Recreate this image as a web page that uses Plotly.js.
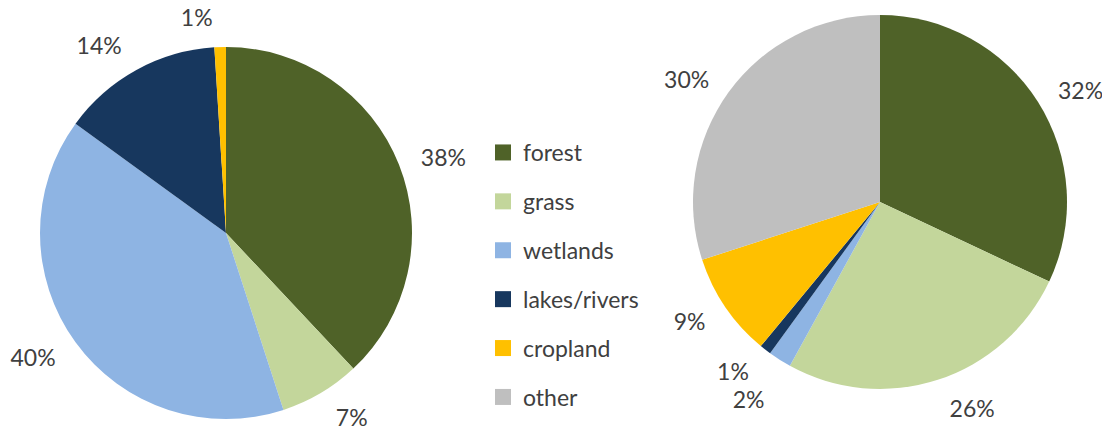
<!DOCTYPE html>
<html>
<head>
<meta charset="utf-8">
<script src="https://cdn.plot.ly/plotly-3.0.1.min.js"></script>
<style>html,body{margin:0;padding:0;background:#fff;}#chart{width:1102px;height:439px;}#chart path.textline{display:none;}</style>
</head>
<body>
<div id="chart"></div>
<script>
// Data
const categories = ["forest", "grass", "wetlands", "lakes/rivers", "cropland", "other"];
const colors = ["#4F6228", "#C3D69B", "#8EB4E3", "#17375E", "#FFC000", "#BFBFBF"];
const leftLabels = ["forest", "grass", "wetlands", "lakes/rivers", "cropland"];
const leftValues = [38, 7, 40, 14, 1];
const rightLabels = ["forest", "grass", "wetlands", "lakes/rivers", "cropland", "other"];
const rightValues = [32, 26, 2, 1, 9, 30];

const W = 1102, H = 439;
const FONT = "Lato, 'Open Sans', sans-serif";
const TXT = "#404040";
const colorOf = l => colors[categories.indexOf(l)];

function circleDomain(cx, cy, r) {
  return {x: [(cx - r) / W, (cx + r) / W], y: [1 - (cy + r) / H, 1 - (cy - r) / H]};
}

const base = {
  type: "pie",
  sort: false,
  direction: "clockwise",
  rotation: 0,
  showlegend: false,
  hoverinfo: "skip"
};

// visible pies (no text)
function slicesPie(labels, values, dom) {
  return Object.assign({}, base, {
    labels: labels, values: values,
    textinfo: "none",
    marker: {colors: labels.map(colorOf), line: {width: 0}},
    domain: dom
  });
}
// transparent, slightly larger pies carrying the outside percentage labels
function labelPie(labels, values, dom) {
  return Object.assign({}, base, {
    labels: labels, values: values,
    textinfo: "percent",
    textposition: "outside",
    outsidetextfont: {family: FONT, size: 23, color: TXT},
    marker: {colors: labels.map(() => "rgba(0,0,0,0)"), line: {width: 0}},
    domain: dom
  });
}

const traces = [
  labelPie(leftLabels, leftValues, circleDomain(226, 233, 202)),
  labelPie(rightLabels, rightValues, circleDomain(880, 202, 203)),
  slicesPie(leftLabels, leftValues, circleDomain(226, 233, 186)),
  slicesPie(rightLabels, rightValues, circleDomain(880, 202, 187))
];

// legend-only entries
const legendTraces = categories.map((c, i) => ({
  type: "scatter",
  mode: "markers",
  x: [null], y: [null],
  name: c,
  legendgroup: c,
  marker: {symbol: "square", size: 16, color: colors[i]},
  hoverinfo: "skip"
}));

const layout = {
  width: W, height: H,
  margin: {l: 0, r: 0, t: 0, b: 0},
  paper_bgcolor: "#fff",
  plot_bgcolor: "#fff",
  font: {family: FONT, color: TXT, size: 23},
  xaxis: {visible: false},
  yaxis: {visible: false},
  showlegend: true,
  legend: {
    x: 483 / W, xanchor: "left",
    y: 1 - 275 / H, yanchor: "middle",
    font: {family: FONT, size: 23, color: TXT},
    tracegroupgap: 16,
    bgcolor: "rgba(0,0,0,0)"
  }
};

Plotly.newPlot("chart", traces.concat(legendTraces), layout, {displayModeBar: false, staticPlot: true});
</script>
</body>
</html>
